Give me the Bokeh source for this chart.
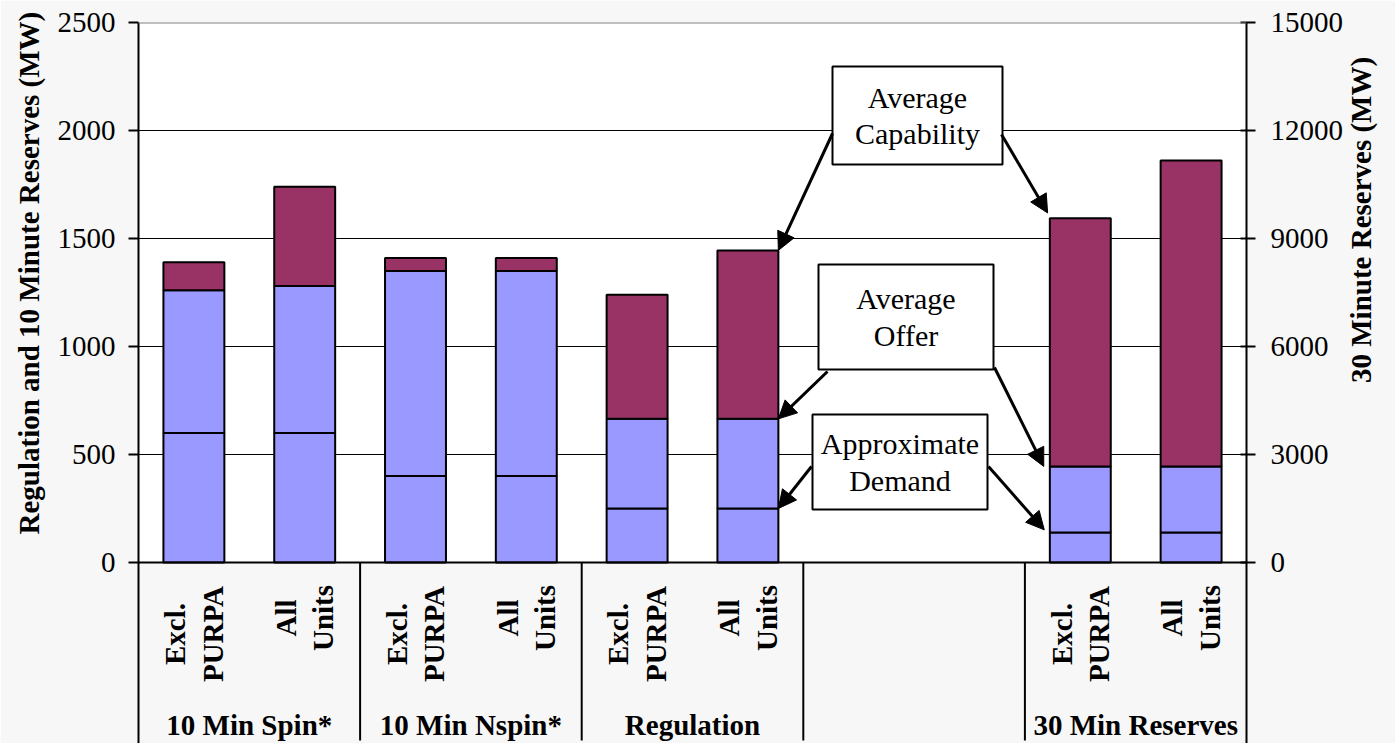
import math

from bokeh.core.properties import value
from bokeh.embed import file_html
from bokeh.models import (Arrow, BoxAnnotation, ColumnDataSource, FixedTicker,
                          Label, LinearAxis, NormalHead, Range1d, Span, Title)
from bokeh.plotting import figure
from bokeh.resources import INLINE

# ---------------------------------------------------------------- data
groups = ["10 Min Spin*", "10 Min Nspin*", "Regulation", "", "30 Min Reserves"]
units = ["Excl.\nPURPA", "All\nUnits"]

# Regulation and 10-minute products (left axis, MW)
short_group = [0, 0, 1, 1, 2, 2]
short_unit = [0, 1, 0, 1, 0, 1]
short_demand = [600, 600, 400, 400, 250, 250]
short_offer = [1260, 1280, 1350, 1350, 665, 665]
short_capability = [1390, 1740, 1410, 1410, 1240, 1445]

# 30-minute reserves (right axis, MW)
long_group = [4, 4]
long_unit = [0, 1]
long_demand = [835, 835]
long_offer = [2670, 2670]
long_capability = [9560, 11170]

left_ticks = [0, 500, 1000, 1500, 2000, 2500]
right_ticks = [0, 3000, 6000, 9000, 12000, 15000]

left_title = "Regulation and 10 Minute Reserves (MW)"
right_title = "30 Minute Reserves (MW)"

# ---------------------------------------------------------------- layout
W, H = 1395, 743
FRAME_L, FRAME_R, FRAME_T = 138, 1246, 22
ZERO_Y = 562                      # pixel row of the 0 MW line
LEFT_MAX, RIGHT_MAX = left_ticks[-1], right_ticks[-1]
RATIO = RIGHT_MAX / LEFT_MAX
N_SLOTS = 2 * len(groups)
BAR_W = 0.55

PX_SLOT = (FRAME_R - FRAME_L) / N_SLOTS
PX_MW = (ZERO_Y - FRAME_T) / LEFT_MAX
Y_MIN = -(H - ZERO_Y) / PX_MW     # room under the axis for category labels


def sx(px):
    return (px - FRAME_L) / PX_SLOT


def sy(py):
    return (ZERO_Y - py) / PX_MW


BLUE = "#9999ff"
MAROON = "#993366"
PANEL = "#f7f7f7"
SERIF = "Liberation Serif"

p = figure(width=W, height=H, output_backend="svg", toolbar_location=None,
           x_range=Range1d(0, N_SLOTS), y_range=Range1d(Y_MIN, LEFT_MAX),
           x_axis_location=None, y_axis_location="left",
           min_border_left=FRAME_L, min_border_right=W - FRAME_R,
           min_border_top=FRAME_T, min_border_bottom=0)
p.extra_y_ranges = {"right": Range1d(Y_MIN * RATIO, RIGHT_MAX)}
p.background_fill_color = "white"
p.border_fill_color = PANEL
p.outline_line_color = None

# value axes
left = p.yaxis[0]
left.ticker = FixedTicker(ticks=left_ticks)
right = LinearAxis(y_range_name="right", ticker=FixedTicker(ticks=right_ticks))
p.add_layout(right, "right")
for ax, tin, tout, stand in ((left, 0, 10, 13), (right, 6, 9, 15)):
    ax.axis_line_color = "black"
    ax.axis_line_width = 2
    ax.major_tick_line_color = "black"
    ax.major_tick_line_width = 2
    ax.major_tick_in = tin
    ax.major_tick_out = tout
    ax.minor_tick_line_color = None
    ax.major_label_standoff = stand
    ax.major_label_text_font = SERIF
    ax.major_label_text_font_size = "29px"
    ax.major_label_text_color = "black"

# axis titles
p.add_layout(Title(text=left_title, align="left", offset=H - 534,
                   standoff=20, text_font=SERIF, text_font_style="bold",
                   text_font_size="29px", text_color="black"), "left")
p.add_layout(LinearAxis(y_range_name="right", ticker=FixedTicker(ticks=[]),
                        axis_label=right_title, axis_line_color=None,
                        major_tick_line_color=None, minor_tick_line_color=None,
                        major_tick_out=0, major_tick_in=0,
                        axis_label_standoff=14, axis_label_orientation=math.pi / 2,
                        axis_label_text_font=SERIF, axis_label_text_font_style="bold",
                        axis_label_text_font_size="29px",
                        axis_label_text_color="black"), "right")

p.xgrid.visible = False
p.ygrid.ticker = FixedTicker(ticks=left_ticks[1:-1])
p.ygrid.grid_line_color = "black"
p.ygrid.grid_line_width = 1

# category panel under the zero line
p.quad(left=[0], right=[N_SLOTS], bottom=[Y_MIN], top=[0],
       fill_color=PANEL, line_color=None)
p.add_layout(Span(location=LEFT_MAX, dimension="width",
                  line_color="#808080", line_width=2))


def slot(g, u):
    return 2 * g + u + 0.5


def stacked(gs, us, dem, off, cap, **kw):
    src = ColumnDataSource(dict(x=[slot(g, u) for g, u in zip(gs, us)],
                                zero=[0] * len(dem), dem=dem, off=off, cap=cap))
    style = dict(width=BAR_W, line_color="black", line_width=2, source=src, **kw)
    p.vbar(x="x", bottom="zero", top="dem", fill_color=BLUE, **style)
    p.vbar(x="x", bottom="dem", top="off", fill_color=BLUE, **style)
    p.vbar(x="x", bottom="off", top="cap", fill_color=MAROON, **style)


stacked(short_group, short_unit, short_demand, short_offer, short_capability)
stacked(long_group, long_unit, long_demand, long_offer, long_capability,
        y_range_name="right")

p.add_layout(Span(location=0, dimension="width", line_color="black", line_width=2))

# group separators
bounds = [2 * g for g in range(1, len(groups))]
p.segment(x0=bounds, x1=bounds, y0=[0] * len(bounds), y1=[sy(740)] * len(bounds),
          line_color="black", line_width=2)

# category labels
unit_mid = [sy(633.5), sy(617.5)]
sub_x, sub_y, sub_t = [], [], []
for g, name in enumerate(groups):
    if not name:
        continue
    for u, lab in enumerate(units):
        sub_x.append(slot(g, u))
        sub_y.append(unit_mid[u])
        sub_t.append(lab)
p.text(x=sub_x, y=sub_y, text=sub_t, angle=math.pi / 2,
       text_align="center", text_baseline="middle", text_line_height=1.17,
       text_font=value(SERIF), text_font_style="bold", text_font_size="29px",
       text_color="black")

named = [(2 * g + 1, n) for g, n in enumerate(groups) if n]
p.text(x=[c for c, _ in named], y=[sy(724)] * len(named), text=[n for _, n in named],
       text_align="center", text_baseline="middle",
       text_font=value(SERIF), text_font_style="bold", text_font_size="29px",
       text_color="black")

# call-outs
callouts = [
    ("Average\nCapability", (832, 1002, 66, 164)),
    ("Average\nOffer", (818, 993, 264, 369)),
    ("Approximate\nDemand", (812, 987, 414, 509)),
]
for text, (l, r, t, b) in callouts:
    p.add_layout(BoxAnnotation(left=sx(l), right=sx(r), top=sy(t), bottom=sy(b),
                               fill_color="white", fill_alpha=1,
                               line_color="black", line_width=2, line_alpha=1))
    p.add_layout(Label(x=sx((l + r) / 2), y=sy((t + b) / 2), text=text,
                       text_align="center", text_baseline="middle",
                       text_line_height=1.12, text_font=SERIF,
                       text_font_size="30px", text_color="black"))

reg_all = slot(2, 1) + BAR_W / 2          # right edge of Regulation / All Units
res_excl = slot(4, 0) - BAR_W / 2         # left edge of 30 Min / Excl. PURPA
arrows = [
    ((832, 133), (reg_all, short_capability[5])),
    ((1001, 134), (res_excl - 0.02, long_capability[0] / RATIO + 25)),
    ((827, 371), (reg_all, short_offer[5])),
    ((994, 367), (res_excl - 0.055, long_offer[0] / RATIO)),
    ((811, 466), (reg_all, short_demand[5])),
    ((988, 466), (res_excl - 0.05, long_demand[0] / RATIO + 12)),
]
for (x0, y0), (x1, y1) in arrows:
    p.add_layout(Arrow(x_start=sx(x0), y_start=sy(y0), x_end=x1, y_end=y1,
                       line_color="black", line_width=3,
                       end=NormalHead(size=18, fill_color="black",
                                      line_color="black", line_width=1)))

open("out.html", "w").write(file_html(p, INLINE))
